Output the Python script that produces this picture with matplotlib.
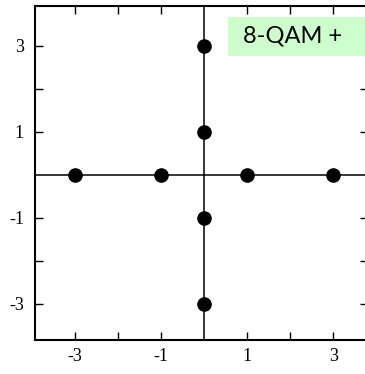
import matplotlib
matplotlib.use("Agg")
import matplotlib.pyplot as plt
from matplotlib.patches import Rectangle

# constellation points (in-phase, quadrature)
I_VALS = [-3, -1, 1, 3, 0, 0, 0, 0]
Q_VALS = [0, 0, 0, 0, 3, 1, -1, -3]

TICKS = [-3, -2, -1, 1, 2, 3]
TICK_LABELS = ["-3", "", "-1", "1", "", "3"]
TITLE = "8-QAM +"

fig = plt.figure(figsize=(3.65, 3.74), dpi=100)
ax = fig.add_axes([35 / 365, 34 / 374, 333 / 365, 334 / 374])
ax.set_xlim(-3.93, 3.81)
ax.set_ylim(-3.84, 3.93)

# axis cross through the origin
ax.axhline(0, color="black", lw=1.1, zorder=1)
ax.axvline(0, color="black", lw=1.1, zorder=1)

ax.plot(I_VALS, Q_VALS, "o", color="black", ms=9.5, zorder=3)

ax.set_xticks(TICKS)
ax.set_xticklabels(TICK_LABELS)
ax.set_yticks(TICKS)
ax.set_yticklabels(TICK_LABELS)
ax.tick_params(direction="in", length=5.8, width=1, top=True, right=True,
               pad=6, labelsize=13)
for lab in ax.get_xticklabels() + ax.get_yticklabels():
    lab.set_family("Liberation Serif")
ax.tick_params(axis="y", pad=8)
for s in ax.spines.values():
    s.set_linewidth(1.5)

# label box in the top right corner
ax.add_patch(Rectangle((0.58, 0.85), 0.45, 0.117, transform=ax.transAxes,
                       facecolor="#ccffcc", edgecolor="none", zorder=4,
                       clip_on=False))
ax.text(0.772, 0.91, TITLE, transform=ax.transAxes, ha="center", va="center",
        fontsize=17, family="Lato", zorder=5)

fig.savefig("out.png", dpi=100)
